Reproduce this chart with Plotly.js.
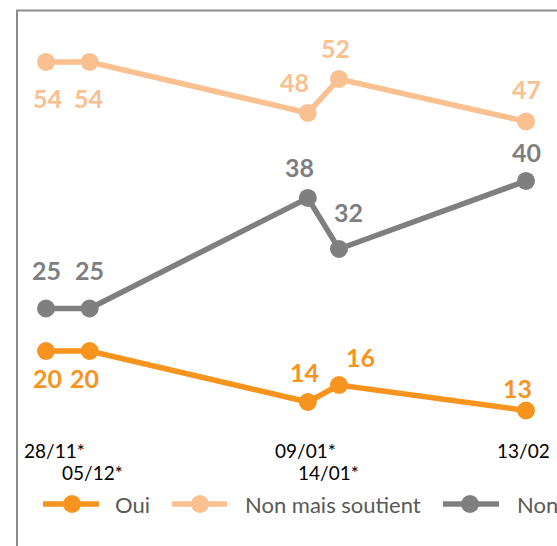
<!DOCTYPE html>
<html>
<head>
<meta charset="utf-8">
<script src="https://cdn.plot.ly/plotly-3.0.1.min.js"></script>
<style>html,body{margin:0;padding:0;background:#fff;}#chart{width:557px;height:546px;}</style>
</head>
<body>
<div id="chart"></div>
<script>
// ---- data ----
const dates = ["2022-11-28", "2022-12-05", "2023-01-09", "2023-01-14", "2023-02-13"];
const tickLabels = ["28/11*", "05/12*", "09/01*", "14/01*", "13/02"];
const seriesNames = ["Oui", "Non mais soutient", "Non"];
const oui = [20, 20, 14, 16, 13];
const nonMaisSoutient = [54, 54, 48, 52, 47];
const non = [25, 25, 38, 32, 40];

// ---- styles ----
const colors = ["#F7941D", "#FAC090", "#7F7F7F"];
const seriesValues = [oui, nonMaisSoutient, non];
// label offsets in px (x right, y up) per series, per point
const labelShift = [
  [[1, -27], [-5, -27], [-3, 30], [22, 28], [-9, 23]],
  [[1, -36], [-1, -36], [-13, 31], [-3, 31], [0, 32]],
  [[0, 38], [0, 38], [-8, 31], [10, 37], [0, 29]]
];
// tick label x shift (px) and row (paper y)
const tickShift = [[8, 0.174], [3, 0.134], [-2, 0.174], [-10, 0.134], [-3, 0.174]];
// manual legend layout (px): line start, line end, marker centre, text start
const legendPos = [[43, 99, 72, 113], [172, 227, 200, 243], [443, 499, 470, 515]];
const legendY = 1 - 504 / 546;
const W = 557;

const font = "Lato, 'Open Sans', sans-serif";

const traces = seriesValues.map((vals, i) => ({
  type: "scatter",
  mode: "lines+markers",
  name: seriesNames[i],
  x: dates,
  y: vals,
  line: {color: colors[i], width: 5.5},
  marker: {color: colors[i], size: 18},
  hoverinfo: "skip",
  showlegend: false
}));

const annotations = [];
seriesValues.forEach((vals, i) => {
  vals.forEach((v, j) => {
    annotations.push({
      x: dates[j], y: v, xref: "x", yref: "y",
      xanchor: "center", yanchor: "middle",
      text: String(v), showarrow: false,
      xshift: labelShift[i][j][0], yshift: labelShift[i][j][1],
      font: {family: font, size: 25, color: colors[i], weight: "bold"}
    });
  });
});
tickLabels.forEach((t, j) => {
  annotations.push({
    x: dates[j], xref: "x", y: tickShift[j][1], yref: "paper",
    xanchor: "center", yanchor: "middle",
    text: t, showarrow: false, xshift: tickShift[j][0],
    font: {family: font, size: 19, color: "#000000"}
  });
});

const shapes = [{
  type: "rect", xref: "paper", yref: "paper",
  x0: 17 / W, x1: 1.3, y0: -0.3, y1: 1 - 10.5 / 546,
  line: {color: "#8C8C8C", width: 2}
}];

// legend (manual, to match the reference spacing)
seriesNames.forEach((name, i) => {
  const p = legendPos[i];
  shapes.push({
    type: "line", xref: "paper", yref: "paper",
    x0: p[0] / W, x1: p[1] / W, y0: legendY, y1: legendY,
    line: {color: colors[i], width: 5.5}
  });
  shapes.push({
    type: "circle", xref: "paper", yref: "paper",
    xsizemode: "pixel", ysizemode: "pixel",
    xanchor: p[2] / W, yanchor: legendY,
    x0: -9, x1: 9, y0: -9, y1: 9,
    fillcolor: colors[i], line: {color: colors[i], width: 0}
  });
  annotations.push({
    xref: "paper", yref: "paper", x: p[3] / W, y: legendY,
    xanchor: "left", yanchor: "middle", showarrow: false,
    text: name, font: {family: font, size: 22, color: "#595959"}
  });
});

const layout = {
  width: 557, height: 546,
  margin: {l: 0, r: 0, t: 0, b: 0},
  paper_bgcolor: "#ffffff", plot_bgcolor: "#ffffff",
  showlegend: false,
  xaxis: {
    type: "date",
    range: ["2022-11-20 14:54", "2023-02-17 23:21"],
    showgrid: false, zeroline: false, showticklabels: false, showline: false, ticks: ""
  },
  yaxis: {
    range: [-2.94, 61.29],
    showgrid: false, zeroline: false, showticklabels: false, showline: false, ticks: ""
  },
  shapes: shapes,
  annotations: annotations
};

Plotly.newPlot("chart", traces, layout, {displayModeBar: false, staticPlot: true});
</script>
</body>
</html>
